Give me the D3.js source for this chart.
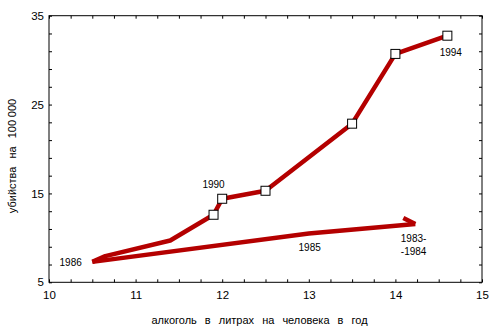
<!DOCTYPE html>
<html>
<head>
<meta charset="utf-8">
<script src="https://cdn.jsdelivr.net/npm/d3@7"></script>
<style>
  body { margin: 0; background: #fff; }
  text { font-family: "Liberation Sans", Arial, sans-serif; fill: #000; }
</style>
</head>
<body>
<div id="chart"></div>
<script>
// data: x = alcohol (litres per person), y = murders per 100 000
const upperX = [10.5, 10.65, 11.4, 11.9, 12.0, 12.5, 13.5, 14.0, 14.6]
const upperY = [7.3, 7.95, 9.7, 12.6, 14.4, 15.3, 22.85, 30.7, 32.75]
const markerIdx = [3, 4, 5, 6, 7, 8] // points drawn with a square
const lowerX = [10.5, 13.0, 14.23] // 1986 -> 1985 -> 1983-84
const lowerY = [7.3, 10.5, 11.55]

const labels = [
  { text: '1986', x: 10.25, y: 6.85 },
  { text: '1990', x: 11.9, y: 15.58 },
  { text: '1985', x: 13.01, y: 8.49 },
  { text: '1983-', x: 14.21, y: 9.55 },
  { text: '-1984', x: 14.21, y: 8.12 },
  { text: '1994', x: 14.64, y: 30.43 }
]

const xTicks = [10, 11, 12, 13, 14, 15]
const yTicks = [5, 15, 25, 35]
const xTitle = 'алкоголь в литрах на человека в год'
const yTitle = 'убийства на 100\u2005000'

const W = 500
const H = 330
const margin = { top: 15.7, right: 18, bottom: 47.7, left: 49 }
const width = W - margin.left - margin.right
const height = H - margin.top - margin.bottom

const svg = d3.select('#chart')
  .append('svg')
  .attr('width', W)
  .attr('height', H)

const g = svg.append('g')
  .attr('transform', 'translate(' + margin.left + ',' + margin.top + ')')

const x = d3.scaleLinear().domain([10, 15]).range([0, width])
const y = d3.scaleLinear().domain([5, 35]).range([height, 0])

// frame
g.append('rect')
  .attr('width', width)
  .attr('height', height)
  .attr('fill', 'none')
  .attr('stroke', '#000')
  .attr('stroke-width', 1)

// inward tick marks on all four sides
const xMinor = d3.range(10, 15.001, 0.25)
const yMinor = d3.range(5, 35.001, 2)
function tickAxis (axis, vals, tr) {
  const a = g.append('g')
    .attr('transform', tr)
    .call(axis.tickValues(vals).tickSize(-3).tickFormat(''))
  a.select('.domain').remove()
  a.selectAll('line').attr('stroke', '#000')
}
tickAxis(d3.axisBottom(x), xMinor, 'translate(0,' + height + ')')
tickAxis(d3.axisTop(x), xMinor, 'translate(0,0)')
tickAxis(d3.axisLeft(y), yMinor, 'translate(0,0)')
tickAxis(d3.axisRight(y), yMinor, 'translate(' + width + ',0)')

// tick labels
const xa = g.append('g')
  .attr('transform', 'translate(0,' + height + ')')
  .call(d3.axisBottom(x).tickValues(xTicks).tickSize(0).tickPadding(9).tickFormat(d3.format('d')))
xa.select('.domain').remove()
xa.selectAll('text').style('font-size', '11.5px').style('font-family', '"Liberation Sans", Arial, sans-serif')

const ya = g.append('g')
  .call(d3.axisLeft(y).tickValues(yTicks).tickSize(0).tickPadding(5).tickFormat(d3.format('d')))
ya.select('.domain').remove()
ya.selectAll('text').style('font-size', '11.5px').style('font-family', '"Liberation Sans", Arial, sans-serif')

// axis titles
svg.append('text')
  .attr('x', 259.5)
  .attr('y', 324)
  .attr('text-anchor', 'middle')
  .style('font-size', '11px')
  .style('word-spacing', '5px')
  .text(xTitle)

svg.append('text')
  .attr('transform', 'translate(16,156) rotate(-90)')
  .attr('text-anchor', 'middle')
  .style('font-size', '11px')
  .style('word-spacing', '5px')
  .text(yTitle)

const red = '#b40000'
const line = d3.line()
  .x(function (d) { return x(d[0]) })
  .y(function (d) { return y(d[1]) })

const upper = upperX.map(function (v, i) { return [v, upperY[i]] })
const lower = lowerX.map(function (v, i) { return [v, lowerY[i]] })

g.append('path')
  .datum(lower)
  .attr('d', line)
  .attr('fill', 'none')
  .attr('stroke', red)
  .attr('stroke-width', 4.5)

// half arrow head at the 1983-84 end
const tip = lower[lower.length - 1]
g.append('path')
  .attr('d', 'M' + (x(tip[0]) - 12) + ',' + (y(tip[1]) - 6) + 'L' + x(tip[0]) + ',' + y(tip[1]))
  .attr('fill', 'none')
  .attr('stroke', red)
  .attr('stroke-width', 4.5)

g.append('path')
  .datum(upper)
  .attr('d', line)
  .attr('fill', 'none')
  .attr('stroke', red)
  .attr('stroke-width', 4.5)
  .attr('stroke-linejoin', 'round')

g.selectAll('rect.pt')
  .data(markerIdx.map(function (i) { return upper[i] }))
  .enter()
  .append('rect')
  .attr('class', 'pt')
  .attr('x', function (d) { return x(d[0]) - 4.5 })
  .attr('y', function (d) { return y(d[1]) - 4.5 })
  .attr('width', 9)
  .attr('height', 9)
  .attr('fill', '#fff')
  .attr('stroke', '#000')
  .attr('stroke-width', 1)

g.selectAll('text.lab')
  .data(labels)
  .enter()
  .append('text')
  .attr('class', 'lab')
  .attr('x', function (d) { return x(d.x) })
  .attr('y', function (d) { return y(d.y) })
  .attr('text-anchor', 'middle')
  .style('font-size', '10px')
  .text(function (d) { return d.text })
</script>
</body>
</html>
